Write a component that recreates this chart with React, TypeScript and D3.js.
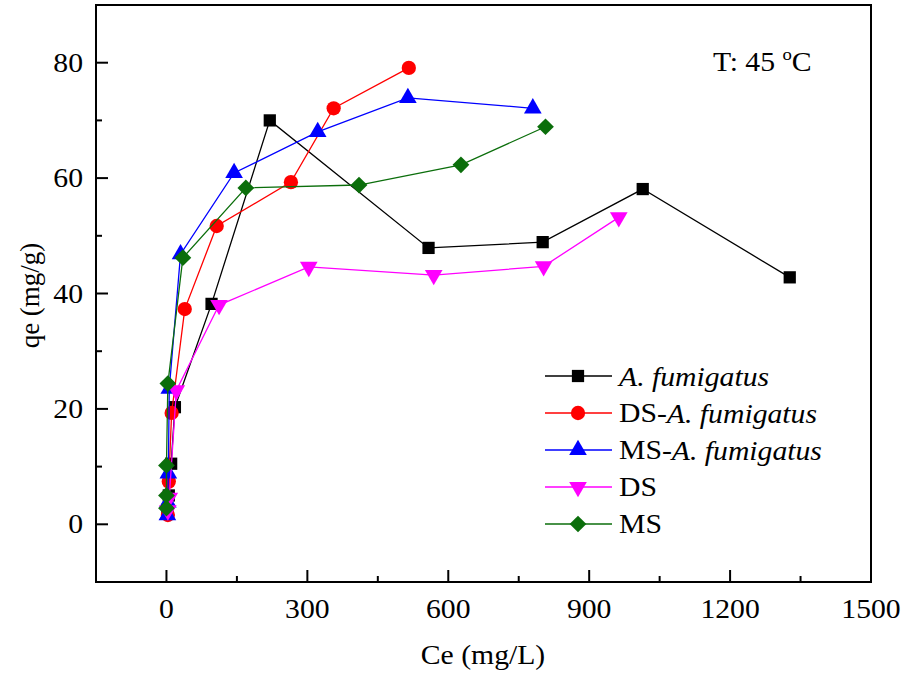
import React from 'react';
import * as d3 from 'd3';

const W = 906;
const H = 684;
const margin = { top: 5, right: 35, bottom: 102, left: 96 };

const xMajor = [0, 300, 600, 900, 1200, 1500];
const xMinor = [150, 450, 750, 1050, 1350];
const yMajor = [0, 20, 40, 60, 80];
const yMinor = [10, 30, 50, 70];

// A. fumigatus
const afX = [2, 5, 10, 18, 96, 220, 558, 801, 1014, 1327];
const afY = [2.5, 5, 10.5, 20.3, 38.2, 70, 47.9, 48.9, 58.1, 42.8];
// DS-A. fumigatus
const dsafX = [3, 5, 11, 39, 107, 265, 356, 516];
const dsafY = [1.6, 7.4, 19.3, 37.3, 51.7, 59.3, 72.1, 79.1];
// MS-A. fumigatus
const msafX = [2, 3, 4, 6, 30, 144, 322, 514, 780];
const msafY = [1.6, 3.8, 8.8, 23.5, 46.8, 60.9, 68, 73.9, 72.1];
// DS
const dsX = [3, 6, 21, 112, 303, 569, 803, 963];
const dsY = [2.4, 4.6, 23.2, 38, 44.6, 43.2, 44.7, 53.2];
// MS
const msX = [0, 0, 0, 3, 35, 169, 410, 627, 807];
const msY = [2.8, 5, 10.2, 24.4, 46.2, 58.3, 58.8, 62.3, 68.9];

const labels = ['A. fumigatus', 'DS-A. fumigatus', 'MS-A. fumigatus', 'DS', 'MS'];

interface Series {
  name: string;
  xs: number[];
  ys: number[];
  color: string;
  shape: 'square' | 'circle' | 'up' | 'down' | 'diamond';
}

const series: Series[] = [
  { name: labels[0], xs: afX, ys: afY, color: '#000000', shape: 'square' },
  { name: labels[1], xs: dsafX, ys: dsafY, color: '#ff0000', shape: 'circle' },
  { name: labels[2], xs: msafX, ys: msafY, color: '#0000ff', shape: 'up' },
  { name: labels[3], xs: dsX, ys: dsY, color: '#ff00ff', shape: 'down' },
  { name: labels[4], xs: msX, ys: msY, color: '#0b6e0b', shape: 'diamond' },
];

const txt: React.CSSProperties = {
  fontFamily: "'Liberation Serif', 'Times New Roman', Times, serif",
  fontSize: 27,
};
// the source picture is slightly stretched horizontally
const SX = 1.1;

const symbolPath = (shape: Series['shape']) => {
  switch (shape) {
    case 'square':
      return d3.symbol(d3.symbolSquare, 150)()!;
    case 'circle':
      return d3.symbol(d3.symbolCircle, 160)()!;
    case 'up':
    case 'down':
      return d3.symbol(d3.symbolTriangle, 135)()!;
    case 'diamond':
      return d3.symbol(d3.symbolSquare, 140)()!;
  }
};

const symbolRotate = (shape: Series['shape']) =>
  shape === 'down' ? 180 : shape === 'diamond' ? 45 : 0;

const Marker: React.FC<{ s: Series; x: number; y: number }> = ({ s, x, y }) => (
  <path
    d={symbolPath(s.shape)}
    transform={`translate(${x},${y}) rotate(${symbolRotate(s.shape)})`}
    fill={s.color}
  />
);

const at = (x: number, y: number) => `translate(${x},${y}) scale(${SX},1)`;

// name label with italic species part
const LegendText: React.FC<{ name: string; x: number; y: number }> = ({ name, x, y }) => {
  const idx = name.indexOf('A. fumigatus');
  return (
    <text transform={at(x, y)} style={txt} dominantBaseline="central">
      {idx >= 0 ? (
        <>
          {name.slice(0, idx)}
          <tspan fontStyle="italic">A. fumigatus</tspan>
        </>
      ) : (
        name
      )}
    </text>
  );
};

export default function App() {
  const x = d3
    .scaleLinear()
    .domain([-150, 1500])
    .range([margin.left, W - margin.right]);
  const y = d3
    .scaleLinear()
    .domain([-10, 90])
    .range([H - margin.bottom, margin.top]);

  const line = d3
    .line<[number, number]>()
    .x(d => x(d[0]))
    .y(d => y(d[1]));

  const x0 = margin.left;
  const x1 = W - margin.right;
  const y0 = H - margin.bottom;
  const y1 = margin.top;

  return (
    <svg
      width={W}
      height={H}
      style={{ position: 'absolute', left: 0, top: 0, background: '#fff' }}
    >
      {/* series */}
      {series.map(s => {
        const pts = s.xs.map((v, i) => [v, s.ys[i]] as [number, number]);
        return (
          <g key={s.name}>
            <path d={line(pts)!} fill="none" stroke={s.color} strokeWidth={1.3} />
            {pts.map((p, i) => (
              <Marker key={i} s={s} x={x(p[0])} y={y(p[1])} />
            ))}
          </g>
        );
      })}

      {/* frame */}
      <rect
        x={x0}
        y={y1}
        width={x1 - x0}
        height={y0 - y1}
        fill="none"
        stroke="#000"
        strokeWidth={2}
      />

      {/* x ticks */}
      {xMajor.map(t => (
        <g key={'xt' + t}>
          <line x1={x(t)} x2={x(t)} y1={y0} y2={y0 - 12} stroke="#000" strokeWidth={2} />
          <text transform={at(x(t), y0 + 36)} textAnchor="middle" style={txt}>
            {t}
          </text>
        </g>
      ))}
      {xMinor.map(t => (
        <line key={'xm' + t} x1={x(t)} x2={x(t)} y1={y0} y2={y0 - 6} stroke="#000" strokeWidth={2} />
      ))}

      {/* y ticks */}
      {yMajor.map(t => (
        <g key={'yt' + t}>
          <line x1={x0} x2={x0 + 12} y1={y(t)} y2={y(t)} stroke="#000" strokeWidth={2} />
          <text
            transform={at(x0 - 13, y(t))}
            textAnchor="end"
            dominantBaseline="central"
            style={txt}
          >
            {t}
          </text>
        </g>
      ))}
      {yMinor.map(t => (
        <line key={'ym' + t} x1={x0} x2={x0 + 6} y1={y(t)} y2={y(t)} stroke="#000" strokeWidth={2} />
      ))}

      {/* axis titles */}
      <text transform={at(483, 664)} textAnchor="middle" style={txt}>
        Ce (mg/L)
      </text>
      <text
        transform={`translate(39,${(y0 + y1) / 2 + 2}) rotate(-90)`}
        textAnchor="middle"
        style={txt}
      >
        qe (mg/g)
      </text>

      {/* temperature note */}
      <text transform={at(713, 71)} style={txt}>
        T: 45 <tspan dy={-11} style={{ fontSize: 17 }}>o</tspan>
        <tspan dy={11}>C</tspan>
      </text>

      {/* legend */}
      {series.map((s, i) => {
        const ly = 376 + i * 37;
        return (
          <g key={'lg' + s.name}>
            <line x1={545} x2={612} y1={ly} y2={ly} stroke={s.color} strokeWidth={1.3} />
            <Marker s={s} x={578} y={ly} />
            <LegendText name={s.name} x={619} y={ly} />
          </g>
        );
      })}
    </svg>
  );
}
